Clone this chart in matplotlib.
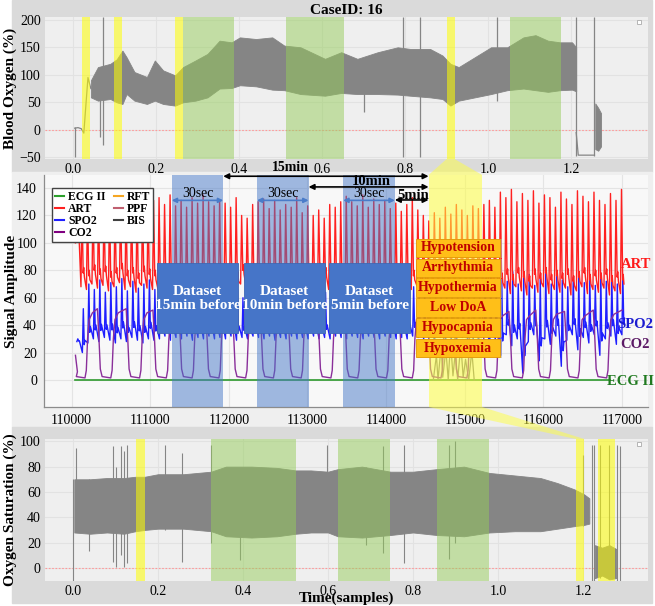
import matplotlib.pyplot as plt
import numpy as np
from matplotlib.patches import Rectangle, Polygon
from matplotlib.lines import Line2D

plt.rcParams['font.family'] = ['Liberation Serif', 'DejaVu Serif']

# ---------------- top panel: blood oxygen (time in 1e6 samples) ----------------
top_t = [0.043, 0.06, 0.09, 0.105, 0.119, 0.129, 0.148, 0.178, 0.197, 0.217, 0.246,
         0.265, 0.295, 0.324, 0.353, 0.382, 0.402, 0.441, 0.48, 0.509, 0.548, 0.607,
         0.646, 0.685, 0.734, 0.782, 0.812, 0.86, 0.89, 0.909, 0.929, 0.968, 1.007,
         1.046, 1.085, 1.114, 1.144, 1.173, 1.202, 1.212]
top_hi = [90, 114, 120, 128, 144, 132, 105, 96, 126, 108, 99, 114, 126, 138, 162, 159,
          168, 165, 168, 153, 150, 129, 141, 129, 141, 150, 147, 147, 135, 120, 114,
          132, 150, 150, 168, 172, 162, 159, 159, 150]
top_lo = [59, 53, 56, 50, 47, 65, 53, 47, 53, 47, 44, 50, 53, 59, 75, 76, 81, 79, 73,
          72, 65, 62, 67, 65, 65, 64, 62, 59, 56, 44, 53, 59, 65, 72, 75, 72, 69, 72,
          73, 70]
top_start_t = [0.004, 0.012, 0.02, 0.026, 0.031, 0.036, 0.043]
top_start_v = [3, 4, 2, -6, 45, 95, 75]
top_flat_t = [1.212, 1.217, 1.253, 1.256]
top_flat_v = [-5, -46, -46, -46]
top_end_t = [1.258, 1.265, 1.272]
top_end_hi = [48, 40, 30]
top_end_lo = [-35, -38, -30]
top_spike_t = [0.004, 0.066, 0.073, 0.702, 0.795, 0.836, 1.021, 1.212, 1.256]
top_spike_lo = [-50, -13, -28, 32, -50, -50, 53, -48, -48]
top_spike_hi = [5, 110, 205, 80, 205, 205, 205, 205, 205]
top_yellow = [(0.021, 0.041), (0.098, 0.118), (0.246, 0.265), (0.900, 0.919)]
top_green = [(0.265, 0.387), (0.512, 0.653), (1.052, 1.175)]

# ---------------- middle panel: signals around the event ----------------
art_start = 110050
art_period = 70
art_peak = [118, 130, 128, 131, 129, 130, 132, 128, 130, 131, 129, 133, 130, 128, 131,
            133, 128, 135, 127, 131, 126, 133, 129, 135, 130, 127,
            131, 129, 126, 133, 120, 118, 128,
            130, 132, 125, 131, 124, 128, 126, 133, 122, 127,
            120, 124, 118, 128, 126, 130,
            134, 130, 127, 135, 126, 132, 128, 131, 125, 129,
            123, 128, 133, 124, 120,
            116, 122, 118, 126, 121, 128, 124, 120, 127, 125,
            128, 131, 126, 137, 133, 139, 130, 136, 131, 138, 129, 135, 133, 126, 137,
            132, 128, 138, 134, 130, 137, 131, 128, 136, 131, 139]
art_trough = [100, 68, 66, 70, 67, 69, 65, 68, 71, 66, 68, 64, 69, 67, 66,
              66, 68, 65, 67, 69, 64, 66, 68, 65, 67, 66,
              68, 69, 67, 65, 70, 68, 66,
              67, 65, 68, 66, 67, 65, 68, 66, 67, 65,
              69, 71, 68, 66, 67, 65,
              67, 66, 68, 65, 67, 66, 68, 65, 67, 66,
              67, 68, 66, 69, 67,
              70, 69, 71, 68, 70, 69, 71, 68, 70, 69,
              68, 66, 69, 64, 67, 63, 68, 65, 62, 67, 64, 68, 63, 66, 64,
              67, 62, 65, 68, 63, 66, 64, 67, 62, 65, 63]
spo2_peak = [30, 52, 70, 66, 73, 64, 71, 68, 74, 65, 72, 67, 70, 73, 66,
             68, 70, 66, 72, 69, 67, 71, 68, 70, 66, 69,
             70, 68, 72, 66, 60, 58, 68,
             70, 67, 72, 68, 66, 70, 69, 71, 67, 68,
             62, 66, 64, 70, 68, 69,
             70, 67, 71, 68, 66, 70, 69, 68, 70, 67,
             66, 70, 68, 66, 64,
             60, 64, 62, 66, 63, 65, 64, 62, 66, 64,
             74, 78, 68, 76, 72, 79, 70, 75, 77, 69, 74, 78, 70, 76, 73,
             68, 75, 77, 71, 74, 69, 76, 72, 74, 70, 76]
spo2_trough = [28, 20, 27, 30, 28, 31, 29, 27, 30, 28, 31, 29, 27, 30, 29,
               30, 32, 29, 31, 30, 32, 29, 31, 30, 32, 30,
               31, 30, 32, 29, 31, 30, 32,
               31, 30, 32, 29, 31, 30, 32, 30, 31, 30,
               32, 30, 31, 30, 32, 31,
               30, 32, 31, 30, 32, 31, 30, 32, 31, 30,
               31, 30, 32, 31, 30,
               30, 28, 31, 29, 30, 28, 31, 29, 30, 28,
               32, 22, 30, 18, 33, 25, 30, 5, 28, 33, 14, 30, 26, 32, 10,
               29, 33, 22, 31, 27, 33, 18, 30, 32, 26, 33]
co2_t = [110126, 110454, 110820, 111160, 111488, 111829, 112169, 112522, 112875,
         113253, 113594, 113960, 114288, 114653, 114981, 115347, 115687, 116028,
         116394, 116759]
co2_plateau = [52, 52, 52, 51, 51, 50, 50, 50, 51, 50, 49, 50, 50, 50, 51, 50, 50,
               51, 50, 51]
ecg_t = [110050, 116850]
ecg_v = [0, 0]
gray_t = [114600, 114640, 114660, 114700, 114720, 114760, 114790, 114820, 114850,
          114880, 114910, 114950, 114980, 115010, 115050, 115090, 115120]
gray_v = [0, 18, 0, 25, 2, 22, 0, 28, 3, 20, 0, 26, 2, 15, 0, 21, 0]

win_30s = [(111274, 111929), (112358, 113014), (113455, 114111)]
dataset_box = [(111084, 112118), (112194, 113228), (113279, 114300)]
dataset_txt = ['Dataset\n15min before', 'Dataset\n10min before', 'Dataset\n5min before']
event_span = (114540, 115221)
event_box = (114376, 115448)
events = ['Hypotension', 'Arrhythmia', 'Hypothermia', 'Low DoA', 'Hypocapnia', 'Hypoxemia']
event_y = [96, 81.5, 67, 52.5, 38, 23]

# ---------------- bottom panel: oxygen saturation ----------------
bot_t = [0.003, 0.04, 0.08, 0.12, 0.147, 0.169, 0.2, 0.26, 0.325, 0.36, 0.42, 0.48,
         0.524, 0.56, 0.6, 0.623, 0.68, 0.747, 0.8, 0.856, 0.92, 0.98, 1.04, 1.1,
         1.14, 1.18, 1.203, 1.215]
bot_hi = [70, 70, 71, 71, 72, 72, 74, 74, 76, 80, 80, 79, 77, 77, 76, 78, 80, 76, 76,
          78, 80, 75, 73, 71, 67, 62, 58, 55]
bot_lo = [28, 27, 28, 27, 29, 30, 31, 31, 29, 25, 24, 25, 27, 28, 28, 25, 24, 26, 28,
          26, 25, 28, 29, 29, 31, 33, 34, 35]
bot_end_t = [1.228, 1.245, 1.262, 1.278]
bot_end_hi = [18, 16, 18, 15]
bot_end_lo = [-8, -6, -9, -8]
bot_spike_t = [0.0, 0.008, 0.038, 0.095, 0.102, 0.112, 0.12, 0.127, 0.216, 0.256,
               0.325, 0.392, 0.598, 0.69, 0.73, 0.78, 0.885, 0.9, 1.2, 1.222, 1.226,
               1.24, 1.262, 1.281, 1.288]
bot_spike_lo = [-10, 30, 13, 5, 1, 10, 1, 4, 30, 5, 20, 6, 28, 18, 12, 4, 7, 20, 33,
                -10, -10, -8, -9, -10, -10]
bot_spike_hi = [70, 95, 70, 96, 80, 96, 92, 97, 97, 91, 97, 75, 97, 80, 96, 97, 97,
                100, 89, 97, 97, 97, 97, 97, 96]
bot_yellow = [(0.149, 0.169), (1.183, 1.203), (1.236, 1.276)]
bot_green = [(0.325, 0.524), (0.623, 0.747), (0.856, 0.980)]

W, H = 655, 606
fig = plt.figure(figsize=(W / 100, H / 100), dpi=100, facecolor='white')


def frac_box(x0, y0, x1, y1):
    # pixel box (top-left origin) -> figure fraction rect
    return [x0 / W, 1 - y1 / H, (x1 - x0) / W, (y1 - y0) / H]


# panel backgrounds
fig.add_artist(Rectangle((12 / W, 1 - 172 / H), 640 / W, 172 / H,
                         transform=fig.transFigure, color='#dadada', zorder=-5))
fig.add_artist(Rectangle((12 / W, 1 - 427 / H), 640 / W, 255 / H,
                         transform=fig.transFigure, color='#efefef', zorder=-5))
fig.add_artist(Rectangle((12 / W, 1 - 603 / H), 640 / W, 176 / H,
                         transform=fig.transFigure, color='#dadada', zorder=-5))

ax1 = fig.add_axes(frac_box(45, 17, 648, 159))
ax2 = fig.add_axes(frac_box(44, 175, 648, 407))
ax3 = fig.add_axes(frac_box(45, 439, 648, 581))

yellow = '#ffff00'
green = '#96cd5a'
sig_gray = '#858585'

for ax in (ax1, ax3):
    ax.set_facecolor('#efefef')
    for s in ax.spines.values():
        s.set_visible(False)
    ax.grid(True, color='#e2e2e2', lw=0.8)
    ax.set_axisbelow(True)
    ax.tick_params(length=0, labelsize=10, pad=3)
    ax.axhline(0, color='#ff9a9a', lw=0.8, ls=(0, (1.5, 1.5)), zorder=1)
    ax.plot([0.985], [0.965], marker='s', ms=3.5, mfc='white', mec='#aaaaaa', mew=0.6,
            transform=ax.transAxes, clip_on=False)

# top panel
ax1.fill_between(top_t, top_lo, top_hi, color=sig_gray, lw=0.6, edgecolor=sig_gray, zorder=2)
ax1.plot(top_start_t, top_start_v, color=sig_gray, lw=0.9, zorder=2)
ax1.plot(top_flat_t, top_flat_v, color=sig_gray, lw=0.9, zorder=2)
ax1.fill_between(top_end_t, top_end_lo, top_end_hi, color=sig_gray, lw=0.6, zorder=2)
ax1.vlines(top_spike_t, top_spike_lo, top_spike_hi, color=sig_gray, lw=0.9, zorder=2)
for a, b in top_green:
    ax1.axvspan(a, b, color=green, alpha=0.5, lw=0, zorder=3)
for a, b in top_yellow:
    ax1.axvspan(a, b, color=yellow, alpha=0.55, lw=0, zorder=3)
ax1.set_xlim(-0.0675, 1.385)
ax1.set_ylim(-53, 205)
ax1.set_xticks([0.0, 0.2, 0.4, 0.6, 0.8, 1.0, 1.2])
ax1.set_yticks([-50, 0, 50, 100, 150, 200])
ax1.set_ylabel('Blood Oxygen (%)', fontsize=11, fontweight='bold')
ax1.yaxis.set_label_coords(-0.046, 0.5)
ax1.set_title('CaseID: 16', fontsize=11, fontweight='bold', pad=2)

# middle panel
ax2.set_facecolor('#f8f8f8')
ax2.grid(True, color='#e4e4e4', lw=0.8)
ax2.set_axisbelow(True)
for s in ('top', 'right'):
    ax2.spines[s].set_visible(False)
for s in ('left', 'bottom'):
    ax2.spines[s].set_color('#8c8c8c')
    ax2.spines[s].set_linewidth(0.9)
ax2.tick_params(length=0, labelsize=10, pad=5)

art_t, art_v, sp_t, sp_v = [], [], [], []
for i in range(len(art_peak)):
    t0 = art_start + art_period * i
    pk, tr = art_peak[i], art_trough[i]
    art_t += [t0, t0 + 13, t0 + 28, t0 + 35, t0 + 44]
    art_v += [tr, pk, tr + 10, tr + 14, tr + 7]
    sp, st = spo2_peak[i], spo2_trough[i]
    sp_t += [t0 + 18, t0 + 30, t0 + 42, t0 + 50]
    sp_v += [st, sp, st + 0.18 * (sp - st), st + 0.28 * (sp - st)]

co2_tt, co2_v = [110050, 110075], [18, 6]
for i, c in enumerate(co2_t):
    p = co2_plateau[i]
    if i > 0:
        co2_tt += [c - 125, c - 105, c - 88]
        co2_v += [p, 30, 8]
    co2_tt += [c - 65, c + 45, c + 62, c + 78, c + 98, c + 140]
    co2_v += [2.5, 1.5, 7, 30, 44, p - 3]
co2_tt += [117000]
co2_v += [co2_plateau[-1]]

ax2.plot(ecg_t, ecg_v, color='#2e9a2e', lw=1.2, zorder=2)
ax2.plot(gray_t, gray_v, color='#7a7a7a', lw=0.9, zorder=2)
ax2.plot(sp_t, sp_v, color='#1f1fff', lw=1.0, zorder=3)
ax2.plot(co2_tt, co2_v, color='#8a2f9a', lw=1.0, zorder=3.5)
ax2.plot(art_t, art_v, color='#ff2020', lw=1.0, zorder=4)

for a, b in win_30s:
    ax2.axvspan(a, b, color='#4677c8', alpha=0.5, lw=0, zorder=5)
    ax2.annotate('', xy=(a, 131), xytext=(b, 131), zorder=8,
                 arrowprops=dict(arrowstyle='<|-|>', color='#4a7cc9', lw=1.2,
                                 mutation_scale=7, shrinkA=0, shrinkB=0))
    ax2.text((a + b) / 2, 136, '30sec', ha='center', va='center', fontsize=10, zorder=8)

ax2.axvspan(event_span[0], event_span[1], color='#ffff40', alpha=0.55, lw=0, zorder=6)

for (a, b), txt in zip(dataset_box, dataset_txt):
    ax2.add_patch(Rectangle((a, 34), b - a, 51, facecolor='#4675c8', edgecolor='#3e68b4',
                            lw=0.6, zorder=7))
    ax2.text((a + b) / 2, 59.5, txt, ha='center', va='center', color='white',
             fontsize=11, fontweight='bold', linespacing=1.15, zorder=8)

for y, txt in zip(event_y, events):
    ax2.add_patch(Rectangle((event_box[0] + 25, y - 6.9), event_box[1] - event_box[0],
                            13.5, facecolor='#b0b0b0', lw=0, alpha=0.6, zorder=8))
    ax2.add_patch(Rectangle((event_box[0], y - 6.4), event_box[1] - event_box[0],
                            13.5, facecolor='#ffbf18', edgecolor='#e59a00', lw=0.6,
                            zorder=9))
    ax2.text((event_box[0] + event_box[1]) / 2, y + 0.3, txt, ha='center', va='center',
             color='#c00000', fontsize=10, fontweight='bold', zorder=10)

arrow_kw = dict(arrowstyle='<|-|>', color='black', lw=1.2, mutation_scale=8,
                shrinkA=0, shrinkB=0)
ax2.annotate('', xy=(111929, 148.6), xytext=(event_span[0], 148.6),
             arrowprops=arrow_kw, annotation_clip=False, zorder=11)
ax2.text(112780, 155.2, '15min', ha='center', va='center', fontsize=10,
         fontweight='bold', clip_on=False, zorder=11)
ax2.annotate('', xy=(113014, 140.8), xytext=(event_span[0], 140.8),
             arrowprops=arrow_kw, zorder=11)
ax2.text(113810, 144.8, '10min', ha='center', va='center', fontsize=10.5,
         fontweight='bold', zorder=11)
ax2.annotate('', xy=(114111, 131.3), xytext=(event_span[0], 131.3),
             arrowprops=arrow_kw, zorder=11)
ax2.text(114350, 134.8, '5min', ha='center', va='center', fontsize=10.5,
         fontweight='bold', zorder=11)

lab_kw = dict(fontsize=10.5, fontweight='bold', va='center', ha='right',
              clip_on=False, zorder=11)
ax2.text(117370, 84, 'ART', color='#ff1a1a', **lab_kw)
ax2.text(117395, 40.5, 'SPO2', color='#1a1ad0', **lab_kw)
ax2.text(117350, 26, 'CO2', color='#5c1a66', **lab_kw)
ax2.text(117400, -1, 'ECG II', color='#207a20', **lab_kw)

ax2.set_xlim(109650, 117330)
ax2.set_ylim(-19.7, 149.5)
ax2.set_xticks([110000, 111000, 112000, 113000, 114000, 115000, 116000, 117000])
ax2.set_yticks([0, 20, 40, 60, 80, 100, 120, 140])
ax2.set_ylabel('Signal Amplitude', fontsize=11, fontweight='bold')
ax2.yaxis.set_label_coords(-0.043, 0.5)

handles = [Line2D([], [], color=c, lw=1.5) for c in
           ['#2ca02c', '#ff2020', '#2020ff', '#800080', '#f5a623', '#c06070', '#404040']]
labels = ['ECG II', 'ART', 'SPO2', 'CO2', 'RFT', 'PPF', 'BIS']
leg = ax2.legend(handles, labels, ncol=2, loc='upper left', bbox_to_anchor=(0.004, 0.97),
                 prop=dict(weight='bold', size=8.5), handlelength=0.75, handletextpad=0.35,
                 columnspacing=0.7, labelspacing=0.0, borderpad=0.25, framealpha=1,
                 fancybox=False, edgecolor='#444444')
leg.set_zorder(12)

# bottom panel
ax3.fill_between(bot_t, bot_lo, bot_hi, color=sig_gray, lw=0.6, edgecolor=sig_gray, zorder=2)
ax3.fill_between(bot_end_t, bot_end_lo, bot_end_hi, color=sig_gray, lw=0.6, zorder=2)
ax3.vlines(bot_spike_t, bot_spike_lo, bot_spike_hi, color=sig_gray, lw=0.8, zorder=2)
for a, b in bot_green:
    ax3.axvspan(a, b, color=green, alpha=0.5, lw=0, zorder=3)
for a, b in bot_yellow:
    ax3.axvspan(a, b, color=yellow, alpha=0.55, lw=0, zorder=3)
ax3.set_xlim(-0.0659, 1.353)
ax3.set_ylim(-10.3, 101.8)
ax3.set_xticks([0.0, 0.2, 0.4, 0.6, 0.8, 1.0, 1.2])
ax3.set_yticks([0, 20, 40, 60, 80, 100])
ax3.set_ylabel('Oxygen Saturation (%)', fontsize=11, fontweight='bold')
ax3.yaxis.set_label_coords(-0.046, 0.5)
ax3.set_xlabel('Time(samples)', fontsize=11, fontweight='bold', labelpad=-5)

# zoom connectors between the highlighted spans
to_fig = fig.transFigure.inverted()


def fig_pt(ax, x, y):
    return to_fig.transform(ax.transData.transform((x, y)))


ya, yb = ax1.get_ylim()[0], ax2.get_ylim()[1]
poly_top = [fig_pt(ax1, top_yellow[3][0], ya), fig_pt(ax1, top_yellow[3][1], ya),
            fig_pt(ax2, event_span[1], yb), fig_pt(ax2, event_span[0], yb)]
fig.add_artist(Polygon(poly_top, closed=True, transform=fig.transFigure,
                       facecolor='#ffff40', alpha=0.5, lw=0, zorder=0.5))
ya, yb = ax2.get_ylim()[0], ax3.get_ylim()[1]
poly_bot = [fig_pt(ax2, event_span[0], ya), fig_pt(ax2, event_span[1], ya),
            fig_pt(ax3, bot_yellow[1][1], yb), fig_pt(ax3, bot_yellow[1][0], yb)]
fig.add_artist(Polygon(poly_bot, closed=True, transform=fig.transFigure,
                       facecolor='#ffff40', alpha=0.5, lw=0, zorder=0.5))

fig.savefig('out.png', dpi=100)
